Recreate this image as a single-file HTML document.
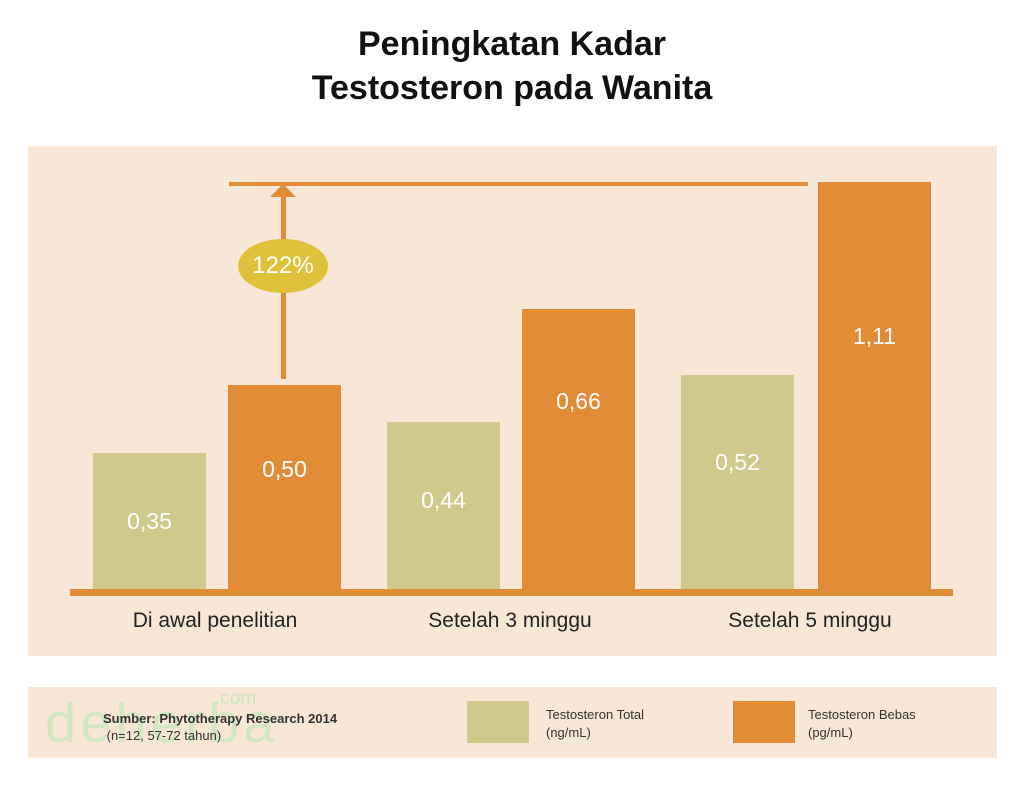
<!DOCTYPE html><html><head><style>
body{margin:0;width:1024px;height:792px;background:#fff;font-family:"Liberation Sans",sans-serif;position:relative;overflow:hidden}
div{position:absolute}
.t{color:#fff;font-size:23px;text-align:center}
.c{font-size:21px;color:#222;text-align:center}
</style></head><body>
<div style="left:0;top:22px;width:1024px;text-align:center;font-size:34px;font-weight:bold;line-height:44px;color:#111">Peningkatan Kadar<br>Testosteron pada Wanita</div>
<div style="left:28px;top:146px;width:969px;height:510px;background:#f8e7d7"></div>
<div style="left:229px;top:182px;width:579px;height:4px;background:#e28c38"></div>
<div style="left:281px;top:194px;width:5px;height:185px;background:#e28c38"></div>
<svg style="position:absolute;left:270px;top:184px" width="26" height="14"><polygon points="13,0 26,13 0,13" fill="#e28c38"/></svg>
<div style="left:238px;top:239px;width:90px;height:54px;border-radius:50%;background:#e0c23a;color:#fff;font-size:24px;line-height:54px;text-align:center">122%</div>
<div style="left:70px;top:589px;width:883px;height:7px;background:#e28c38"></div>
<div style="left:93px;top:453px;width:113px;height:136px;background:#cfc98c"></div>
<div style="left:228px;top:385px;width:113px;height:204px;background:#e28c38"></div>
<div style="left:387px;top:422px;width:113px;height:167px;background:#cfc98c"></div>
<div style="left:522px;top:309px;width:113px;height:280px;background:#e28c38"></div>
<div style="left:681px;top:375px;width:113px;height:214px;background:#cfc98c"></div>
<div style="left:818px;top:182px;width:113px;height:407px;background:#e28c38"></div>
<div class="t" style="left:93px;top:508px;width:113px">0,35</div>
<div class="t" style="left:228px;top:456px;width:113px">0,50</div>
<div class="t" style="left:387px;top:487px;width:113px">0,44</div>
<div class="t" style="left:522px;top:388px;width:113px">0,66</div>
<div class="t" style="left:681px;top:449px;width:113px">0,52</div>
<div class="t" style="left:818px;top:323px;width:113px">1,11</div>
<div class="c" style="left:70px;top:609px;width:290px">Di awal penelitian</div>
<div class="c" style="left:365px;top:609px;width:290px">Setelah 3 minggu</div>
<div class="c" style="left:665px;top:609px;width:290px">Setelah 5 minggu</div>
<div style="left:28px;top:687px;width:969px;height:71px;background:#f8e7d7"></div>
<div style="left:45px;top:693px;font-size:56px;color:#d2e7c2;line-height:60px;letter-spacing:4px">deherba</div>
<div style="left:215px;top:688px;font-size:19px;color:#cde6bd">.com</div>
<div style="left:103px;top:710px;font-size:13px;color:#333;line-height:17px"><b>Sumber: Phytotherapy Research 2014</b><br>&nbsp;(n=12, 57-72 tahun)</div>
<div style="left:467px;top:701px;width:62px;height:42px;background:#cfc98c"></div>
<div style="left:733px;top:701px;width:62px;height:42px;background:#e28c38"></div>
<div style="left:546px;top:706px;font-size:13px;color:#333;line-height:18px">Testosteron Total<br>(ng/mL)</div>
<div style="left:808px;top:706px;font-size:13px;color:#333;line-height:18px">Testosteron Bebas<br>(pg/mL)</div>
</body></html>
